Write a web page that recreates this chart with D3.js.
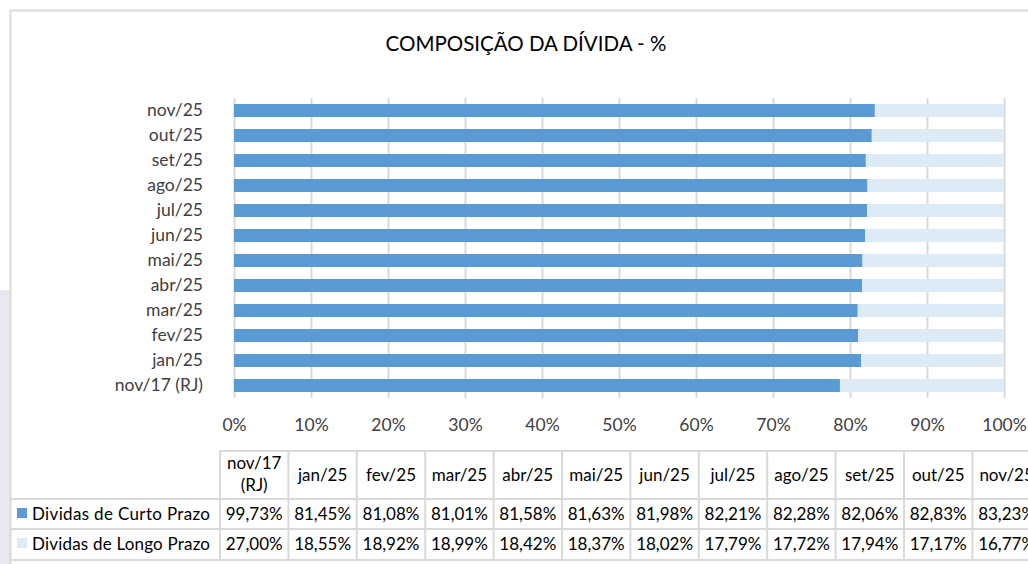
<!DOCTYPE html>
<html>
<head>
<meta charset="utf-8">
<script src="https://cdn.jsdelivr.net/npm/d3@7"></script>
<style>
  html, body { margin: 0; padding: 0; background: #fff; }
  svg { display: block; }
  text { font-family: Lato, "Open Sans", sans-serif; }
</style>
</head>
<body>
<div id="chart"></div>
<script>
// dados
const categorias = ["nov/17 (RJ)", "jan/25", "fev/25", "mar/25", "abr/25", "mai/25",
                    "jun/25", "jul/25", "ago/25", "set/25", "out/25", "nov/25"];
const cabecalho = [["nov/17", "(RJ)"], ["jan/25"], ["fev/25"], ["mar/25"], ["abr/25"], ["mai/25"],
                   ["jun/25"], ["jul/25"], ["ago/25"], ["set/25"], ["out/25"], ["nov/25"]];
const curtoPrazo = [99.73, 81.45, 81.08, 81.01, 81.58, 81.63, 81.98, 82.21, 82.28, 82.06, 82.83, 83.23];
const longoPrazo = [27.00, 18.55, 18.92, 18.99, 18.42, 18.37, 18.02, 17.79, 17.72, 17.94, 17.17, 16.77];
const series = ["Dividas de Curto Prazo", "Dividas de Longo Prazo"];
const xTicks = [0, 0.1, 0.2, 0.3, 0.4, 0.5, 0.6, 0.7, 0.8, 0.9, 1];

const W = 1028, H = 564;
const cores = ["#5b9bd5", "#ddebf7"];
const gridCor = "#d9d9d9";

const svg = d3.select("#chart").append("svg")
    .attr("width", W)
    .attr("height", H);

// faixa lilas a esquerda (fundo)
svg.append("rect")
    .attr("x", 0).attr("y", 290)
    .attr("width", 10).attr("height", H - 290)
    .attr("fill", "#e9e8f1");

// moldura do grafico
svg.append("path")
    .attr("d", `M10.5,${H} V10.5 H${W}`)
    .attr("fill", "none")
    .attr("stroke", gridCor)
    .attr("stroke-width", 2);

svg.append("text")
    .attr("x", 526)
    .attr("y", 51)
    .attr("text-anchor", "middle")
    .attr("font-size", 20.5)
    .attr("fill", "#000")
    .text("COMPOSIÇÃO DA DÍVIDA - %");

const plot = {left: 234, right: 1004, top: 98, bottom: 398};

const dados = categorias.map((c, i) => ({cat: c, curto: curtoPrazo[i], longo: longoPrazo[i]}));
const stack = d3.stack().keys(["curto", "longo"]).offset(d3.stackOffsetExpand);
const empilhado = stack(dados);

const x = d3.scaleLinear().domain([0, 1]).range([plot.left, plot.right]);
const y = d3.scaleBand()
    .domain(categorias.slice().reverse())
    .range([plot.top, plot.bottom])
    .paddingInner(0.48)
    .paddingOuter(0.24);

// linhas de grade
svg.append("g")
    .attr("transform", `translate(0,${plot.bottom})`)
    .call(d3.axisBottom(x).tickValues(xTicks).tickSize(-(plot.bottom - plot.top)).tickFormat(""))
    .call(g => g.select(".domain").remove())
    .call(g => g.selectAll("line").attr("stroke", gridCor).attr("stroke-width", 2));

// barras
svg.append("g").selectAll("g")
    .data(empilhado).enter().append("g")
    .attr("fill", (d, i) => cores[i])
    .selectAll("rect")
    .data(d => d).enter().append("rect")
    .attr("x", d => x(d[0]))
    .attr("y", d => y(d.data.cat))
    .attr("width", d => x(d[1]) - x(d[0]))
    .attr("height", y.bandwidth());

// eixo y
svg.append("g")
    .attr("transform", `translate(${plot.left - 31},0)`)
    .call(d3.axisLeft(y).tickSize(0).tickPadding(0))
    .call(g => g.select(".domain").remove())
    .call(g => g.selectAll("text")
        .attr("font-size", 17.5)
        .attr("fill", "#404040")
        .attr("font-family", "Lato, sans-serif"));

// eixo x
svg.append("g")
    .attr("transform", `translate(0,${plot.bottom})`)
    .call(d3.axisBottom(x).tickValues(xTicks).tickSize(0).tickPadding(21).tickFormat(d3.format(".0%")))
    .call(g => g.select(".domain").remove())
    .call(g => g.selectAll("text")
        .attr("font-size", 17.5)
        .attr("fill", "#404040")
        .attr("font-family", "Lato, sans-serif"));

// tabela de dados
const tab = {left: 220, colW: 68.4, rows: [451, 499, 529, 560]};
const col = d3.scaleBand()
    .domain(categorias)
    .range([tab.left, tab.left + tab.colW * categorias.length]);

const linhas = svg.append("g")
    .attr("stroke", gridCor)
    .attr("stroke-width", 2)
    .attr("fill", "none");

// verticais
linhas.selectAll(".v")
    .data(d3.range(categorias.length + 1)).enter().append("line")
    .attr("x1", i => tab.left + i * tab.colW)
    .attr("x2", i => tab.left + i * tab.colW)
    .attr("y1", tab.rows[0])
    .attr("y2", tab.rows[3]);

// horizontais
linhas.append("line")
    .attr("x1", tab.left).attr("x2", W)
    .attr("y1", tab.rows[0]).attr("y2", tab.rows[0]);
linhas.selectAll(".h")
    .data(tab.rows.slice(1)).enter().append("line")
    .attr("x1", 10).attr("x2", W)
    .attr("y1", d => d).attr("y2", d => d);

// cabecalho
const head = svg.append("g").attr("font-size", 17).attr("fill", "#000").attr("text-anchor", "middle");
head.selectAll("text")
    .data(categorias).enter().append("text")
    .attr("x", d => col(d) + col.bandwidth() / 2)
    .attr("y", (d, i) => cabecalho[i].length > 1 ? 469 : 481)
    .each(function (d, i) {
        const t = d3.select(this);
        cabecalho[i].forEach((s, k) => {
            t.append("tspan")
                .attr("x", col(d) + col.bandwidth() / 2)
                .attr("dy", k === 0 ? 0 : 22)
                .text(s);
        });
    });

// linhas de valores
const fmt = v => d3.format(".2f")(v).replace(".", ",") + "%";
const valores = [curtoPrazo, longoPrazo];
const rowY = [520, 550];

valores.forEach((vals, r) => {
    const g = svg.append("g").attr("font-size", 17).attr("fill", "#000");
    g.append("rect")
        .attr("x", 17).attr("y", rowY[r] - 12)
        .attr("width", 10).attr("height", 10)
        .attr("fill", cores[r]);
    g.append("text")
        .attr("x", 32).attr("y", rowY[r])
        .attr("textLength", 178)
        .attr("lengthAdjust", "spacing")
        .text(series[r]);
    g.selectAll(".val")
        .data(vals).enter().append("text")
        .attr("x", (d, i) => col(categorias[i]) + col.bandwidth() / 2)
        .attr("y", rowY[r])
        .attr("text-anchor", "middle")
        .text(d => fmt(d));
});
</script>
</body>
</html>
